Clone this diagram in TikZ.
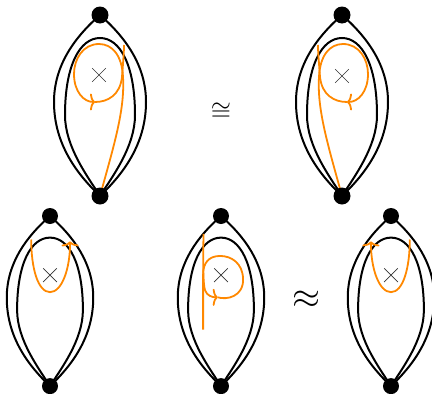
\documentclass[tikz,border=0pt]{standalone}
\usepackage{graphicx}
\usetikzlibrary{arrows.meta,shapes.misc}
\definecolor{myorange}{RGB}{255,136,0}
\tikzset{
  edge/.style={line width=2pt},
  orangeline/.style={draw=myorange, line width=1.8pt},
  tipped/.style={-{To[length=5pt,width=17pt]}},
  dot/.style={circle, fill=black, minimum size=#1, inner sep=0pt},
  dot/.default=17pt,
  puncture/.style={cross out, draw=black!80, line width=0.7pt, minimum size=13pt, inner sep=0pt},
}
% outer lens and inner loop of one surface (local coordinates)
\newcommand\lensfig[1]{%
  \coordinate (#1A) at (0,0);
  \coordinate (#1B) at (0,181);
  \draw[edge] (#1A) .. controls (-25,22) and (-46,50) .. (-46,87)
                    .. controls (-46,130) and (-22,160) .. (#1B);
  \draw[edge] (#1A) .. controls (25,22) and (46,50) .. (46,87)
                    .. controls (46,130) and (22,160) .. (#1B);
  \draw[edge] (#1B) .. controls (-12,162) and (-35,132) .. (-35,100)
                    .. controls (-35,50) and (-20,23) .. (0,23)
                    .. controls (20,23) and (35,50) .. (35,100)
                    .. controls (35,132) and (12,162) .. (#1B);
}
\newcommand\lensdots[2]{%
  \node[dot=#2] (#1top) at (#1A) {};
  \node[dot=#2] (#1bot) at (#1B) {};
}
% the "9"-shaped curve of the top row
\newcommand\nineloop[1]{%
  \coordinate (#1T) at (-5,87);
  \coordinate (#1E) at (24,30);
  \draw[orangeline,tipped] (#1B) .. controls (14,130) and (25,95) .. (23,62)
        .. controls (22,40) and (12,29) .. (-1,29)
        .. controls (-17,29) and (-26,44) .. (-26,59)
        .. controls (-26,77) and (-16,87) .. (#1T);
  \draw[orangeline] (#1T) .. controls (8,87) and (20,80) .. (22,62)
        .. controls (23,48) and (24,38) .. (#1E);
}
% the U-shaped curve of the bottom row
\newcommand\ucurve[1]{%
  \coordinate (#1S) at (-20,25);
  \coordinate (#1E) at (21.3,27);
  \draw[orangeline,tipped] (#1S) .. controls (-20,55) and (-13,81) .. (0,81)
        .. controls (13,81) and (21.5,55) .. (#1E);
}
\begin{document}
\begin{tikzpicture}[x=1pt,y=-1pt]
\useasboundingbox (0,0) rectangle (432,394);

% top left
\begin{scope}[shift={(100,15)}]
  \lensfig{tl}
  \nineloop{tl}
  \node[puncture] (tlX) at (-1,60) {};
  \lensdots{tl}{17pt}
\end{scope}

% top right
\begin{scope}[shift={(342,15)}, xscale=-1]
  \lensfig{tr}
  \nineloop{tr}
  \node[puncture] (trX) at (0,61) {};
  \lensdots{tr}{17pt}
\end{scope}

% bottom left
\begin{scope}[shift={(50,216)}, scale=0.94]
  \lensfig{bl}
  \ucurve{bl}
  \node[puncture] (blX) at (0,63) {};
  \lensdots{bl}{16pt}
\end{scope}

% bottom middle
\begin{scope}[shift={(221,216)}, scale=0.94]
  \lensfig{bm}
  \coordinate (bmS) at (-18.6,19);
  \coordinate (bmT) at (-3.5,86.5);
  \coordinate (bmE) at (-19,121);
  \draw[orangeline,tipped] (bmS) .. controls (-19,45) and (-19.5,70) .. (-17,79)
        .. controls (-15,85) and (-9,86.5) .. (bmT);
  \draw[orangeline] (bmT) .. controls (6,89.5) and (24,86) .. (23.5,67)
        .. controls (23,50) and (11,42.5) .. (-1,42.5)
        .. controls (-13,42.5) and (-19,50) .. (-19,62)
        .. controls (-19,85) and (-19,105) .. (bmE);
  \node[puncture] (bmX) at (0,63) {};
  \lensdots{bm}{16pt}
\end{scope}

% bottom right
\begin{scope}[shift={(391,216)}, xscale=-0.94, yscale=0.94]
  \lensfig{br}
  \ucurve{br}
  \node[puncture] (brX) at (0,63) {};
  \lensdots{br}{16pt}
\end{scope}

\node (cong) at (221,112) {\scalebox{2.6}{$\cong$}};
\node (approx) at (306,300) {\scalebox{3.6}{$\approx$}};
\end{tikzpicture}
\end{document}
